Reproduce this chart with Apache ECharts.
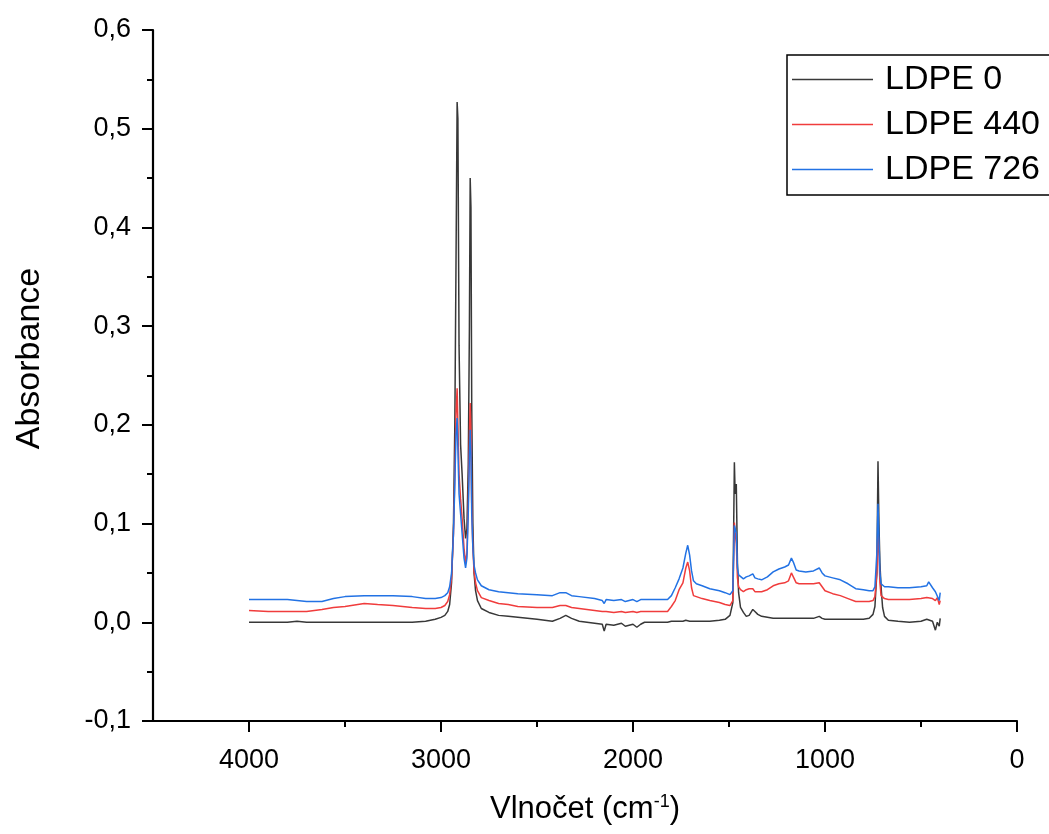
<!DOCTYPE html>
<html>
<head>
<meta charset="utf-8">
<title>FTIR LDPE</title>
<script src="https://cdn.jsdelivr.net/npm/echarts@6/dist/echarts.min.js"></script>
<style>
  html, body { margin: 0; padding: 0; background: #ffffff; }
  #chart { width: 1049px; height: 834px; }
</style>
</head>
<body>
<div id="chart"></div>
<script>
// Wavenumber grid (cm^-1), shared by the three spectra
const wavenumber = [
  4000, 3900, 3800, 3750, 3700, 3620, 3560, 3500, 3400, 3330, 3250, 3150, 3080, 3030,
  3000, 2980, 2965, 2955, 2945, 2935, 2928, 2922, 2916, 2912, 2906, 2898, 2890, 2880,
  2872, 2865, 2858, 2852, 2848, 2844, 2840, 2834, 2828, 2820, 2810, 2790, 2750, 2700,
  2650, 2600, 2500, 2420, 2380, 2350, 2320, 2280, 2200, 2160, 2150, 2140, 2100, 2060,
  2040, 2000, 1980, 1960, 1940, 1900, 1850, 1820, 1800, 1780, 1760, 1740, 1725, 1715,
  1705, 1695, 1685, 1670, 1640, 1600, 1550, 1520, 1495, 1480, 1472, 1468, 1462, 1456,
  1450, 1440, 1425, 1410, 1395, 1376, 1365, 1350, 1330, 1300, 1270, 1240, 1210, 1190,
  1175, 1165, 1150, 1135, 1100, 1060, 1030, 1015, 1000, 960, 920, 880, 840, 800,
  770, 750, 740, 730, 724, 719, 714, 708, 700, 690, 670, 620, 560, 500,
  470, 460, 440, 425, 415, 405, 400
];

// Absorbance, LDPE 0
const ldpe0 = [
  0.000, 0.000, 0.000, 0.001, 0.000, 0.000, 0.000, 0.000, 0.000, 0.000, 0.000, 0.000, 0.001, 0.003,
  0.005, 0.007, 0.011, 0.018, 0.040, 0.100, 0.200, 0.360, 0.527, 0.510, 0.280, 0.180, 0.150, 0.105,
  0.085, 0.095, 0.160, 0.300, 0.450, 0.420, 0.220, 0.100, 0.050, 0.032, 0.022, 0.014, 0.010, 0.007,
  0.006, 0.005, 0.003, 0.001, 0.004, 0.007, 0.004, 0.001, -0.001, -0.002, -0.009, -0.002, -0.003, -0.001,
  -0.004, -0.002, -0.005, -0.002, 0.000, 0.000, 0.000, 0.000, 0.001, 0.001, 0.001, 0.001, 0.002, 0.002,
  0.001, 0.001, 0.001, 0.001, 0.001, 0.001, 0.002, 0.003, 0.007, 0.020, 0.162, 0.130, 0.140, 0.060,
  0.030, 0.015, 0.010, 0.006, 0.007, 0.013, 0.011, 0.008, 0.006, 0.005, 0.004, 0.004, 0.004, 0.004,
  0.004, 0.004, 0.004, 0.004, 0.004, 0.004, 0.006, 0.004, 0.003, 0.003, 0.003, 0.003, 0.003, 0.003,
  0.004, 0.008, 0.016, 0.050, 0.163, 0.100, 0.060, 0.036, 0.015, 0.006, 0.002, 0.001, 0.000, 0.001,
  0.003, 0.002, 0.001, -0.008, 0.000, -0.004, 0.004
];

// Absorbance, LDPE 440
const ldpe440 = [
  0.012, 0.011, 0.011, 0.011, 0.011, 0.013, 0.015, 0.016, 0.019, 0.018, 0.017, 0.015, 0.014, 0.014,
  0.015, 0.017, 0.021, 0.028, 0.045, 0.090, 0.150, 0.210, 0.237, 0.200, 0.150, 0.125, 0.105, 0.075,
  0.060, 0.070, 0.120, 0.190, 0.222, 0.190, 0.120, 0.075, 0.052, 0.040, 0.032, 0.025, 0.022, 0.019,
  0.018, 0.016, 0.015, 0.015, 0.017, 0.017, 0.015, 0.014, 0.012, 0.011, 0.009, 0.011, 0.010, 0.011,
  0.010, 0.011, 0.010, 0.011, 0.011, 0.011, 0.011, 0.011, 0.016, 0.022, 0.033, 0.040, 0.055, 0.061,
  0.052, 0.035, 0.027, 0.026, 0.024, 0.022, 0.020, 0.018, 0.017, 0.022, 0.101, 0.090, 0.080, 0.045,
  0.036, 0.033, 0.031, 0.033, 0.034, 0.034, 0.031, 0.031, 0.031, 0.033, 0.037, 0.039, 0.040, 0.042,
  0.050, 0.046, 0.040, 0.039, 0.039, 0.039, 0.040, 0.036, 0.032, 0.029, 0.027, 0.024, 0.021, 0.021,
  0.021, 0.022, 0.026, 0.050, 0.095, 0.070, 0.040, 0.027, 0.025, 0.024, 0.023, 0.023, 0.023, 0.024,
  0.025, 0.026, 0.024, 0.022, 0.025, 0.018, 0.022
];

// Absorbance, LDPE 726
const ldpe726 = [
  0.023, 0.023, 0.023, 0.022, 0.021, 0.021, 0.024, 0.026, 0.027, 0.027, 0.027, 0.026, 0.024, 0.024,
  0.025, 0.027, 0.030, 0.036, 0.050, 0.090, 0.140, 0.190, 0.207, 0.175, 0.130, 0.110, 0.090, 0.065,
  0.055, 0.065, 0.110, 0.170, 0.195, 0.170, 0.110, 0.075, 0.058, 0.050, 0.043, 0.037, 0.033, 0.031,
  0.030, 0.029, 0.028, 0.027, 0.030, 0.030, 0.027, 0.026, 0.024, 0.022, 0.019, 0.023, 0.022, 0.023,
  0.021, 0.023, 0.021, 0.023, 0.023, 0.023, 0.023, 0.023, 0.027, 0.035, 0.044, 0.055, 0.070, 0.078,
  0.068, 0.052, 0.042, 0.039, 0.037, 0.034, 0.032, 0.030, 0.028, 0.032, 0.098, 0.100, 0.090, 0.055,
  0.048, 0.046, 0.044, 0.046, 0.047, 0.049, 0.045, 0.044, 0.043, 0.046, 0.051, 0.054, 0.056, 0.058,
  0.065, 0.061, 0.053, 0.052, 0.051, 0.052, 0.055, 0.050, 0.047, 0.045, 0.043, 0.039, 0.034, 0.033,
  0.032, 0.032, 0.036, 0.070, 0.120, 0.085, 0.050, 0.039, 0.038, 0.036, 0.036, 0.035, 0.035, 0.036,
  0.037, 0.041, 0.035, 0.031, 0.029, 0.022, 0.030
];

const seriesNames = ['LDPE 0', 'LDPE 440', 'LDPE 726'];
const seriesColors = ['#383838', '#f03c3c', '#2272e4'];
const xMajorTicks = [0, 1000, 2000, 3000, 4000];
const xMinorTicks = [500, 1500, 2500, 3500];

const FONT = '"Liberation Sans", Arial, sans-serif';

const pairs = ys => wavenumber.map((w, i) => [w, ys[i]]);

const chart = echarts.init(document.getElementById('chart'), null, { renderer: 'canvas' });

const axisLineStyle = { color: '#000', width: 2.2 };

chart.setOption({
  animation: false,
  backgroundColor: '#ffffff',
  grid: { left: 153, right: 32, top: 30, bottom: 113, containLabel: false },
  legend: {
    orient: 'vertical',
    left: 787,
    top: 55,
    padding: [6, 16, 7, 5],
    itemGap: 8,
    itemWidth: 81,
    itemHeight: 1.5,
    icon: 'rect',
    borderColor: '#000',
    borderWidth: 1.5,
    backgroundColor: '#fff',
    textStyle: { fontFamily: FONT, fontSize: 34, color: '#000', lineHeight: 37, padding: [0, 0, 0, 7] },
    data: seriesNames
  },
  xAxis: [
    {
      type: 'value',
      min: 0, max: 4500,
      inverse: true,
      name: 'Vlnočet (cm{sup|-1})',
      nameLocation: 'middle',
      nameGap: 72,
      nameTextStyle: {
        fontFamily: FONT, fontSize: 31, color: '#000',
        rich: { sup: { fontFamily: FONT, fontSize: 18, color: '#000', verticalAlign: 'top', padding: [0, 0, 14, 0] } }
      },
      axisLine: { show: true, onZero: false, lineStyle: axisLineStyle },
      axisTick: { show: true, length: 11, lineStyle: { color: '#000', width: 2 }, customValues: xMajorTicks },
      axisLabel: {
        fontFamily: FONT, fontSize: 27, color: '#000', margin: 26, customValues: xMajorTicks,
        formatter: v => String(v)
      },
      splitLine: { show: false }
    },
    {
      type: 'value',
      min: 0, max: 4500,
      inverse: true,
      position: 'bottom',
      axisLine: { show: false, onZero: false },
      axisTick: { show: true, length: 6, lineStyle: { color: '#000', width: 2 }, customValues: xMinorTicks },
      axisLabel: { show: false },
      splitLine: { show: false }
    }
  ],
  yAxis: {
    type: 'value',
    min: -0.1, max: 0.6, interval: 0.1,
    name: 'Absorbance',
    nameLocation: 'middle',
    nameGap: 106,
    nameTextStyle: { fontFamily: FONT, fontSize: 34, color: '#000', padding: [0, 0, 0, 34] },
    axisLine: { show: true, onZero: false, lineStyle: axisLineStyle },
    axisTick: { show: true, length: 11, lineStyle: { color: '#000', width: 2 } },
    minorTick: { show: true, splitNumber: 2, length: 6, lineStyle: { color: '#000', width: 2 } },
    axisLabel: {
      fontFamily: FONT, fontSize: 27, color: '#000', margin: 22,
      formatter: v => v.toFixed(1).replace('.', ',')
    },
    splitLine: { show: false },
    minorSplitLine: { show: false }
  },
  series: [ldpe0, ldpe440, ldpe726].map((ys, k) => ({
    name: seriesNames[k],
    type: 'line',
    xAxisIndex: 0,
    data: pairs(ys),
    symbol: 'none',
    showSymbol: false,
    color: seriesColors[k],
    lineStyle: { color: seriesColors[k], width: 1.5 },
    emphasis: { disabled: true }
  }))
});
</script>
</body>
</html>
